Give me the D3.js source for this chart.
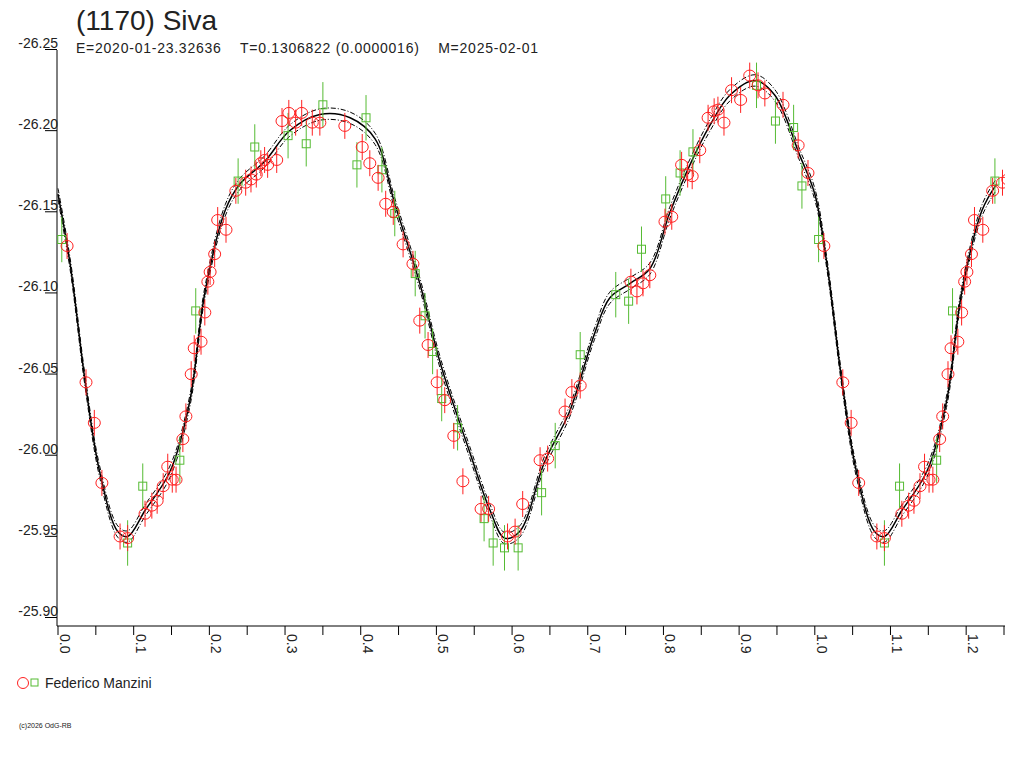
<!DOCTYPE html>
<html><head><meta charset="utf-8">
<script src="https://cdn.jsdelivr.net/npm/d3@7"></script>
<style>body{margin:0;background:#fff}text{font-family:"Liberation Sans",Arial,sans-serif}</style>
</head><body><svg id="c" width="1024" height="768"></svg>
<script>
const title="(1170) Siva";
const subtitle="E=2020-01-23.32636    T=0.1306822 (0.0000016)    M=2025-02-01";
const observer="Federico Manzini";
const yTicks=[-26.25,-26.20,-26.15,-26.10,-26.05,-26.00,-25.95,-25.90];
const xTicks=[0.0,0.1,0.2,0.3,0.4,0.5,0.6,0.7,0.8,0.9,1.0,1.1,1.2];
const curvePhase=[0,.016,.036,.055,.079,.092,.115,.148,.174,.194,.221,.240,.273,.306,.346,.386,.419,.445,.478,.505,.544,.571,.590,.610,.643,.676,.709,.729,.756,.782,.808,.835,.861,.888,.921,.947,.980,1.0];
const curveMag=[-26.160,-26.117,-26.044,-25.989,-25.952,-25.949,-25.965,-25.989,-26.032,-26.099,-26.150,-26.166,-26.180,-26.199,-26.209,-26.207,-26.194,-26.154,-26.105,-26.056,-26.001,-25.965,-25.948,-25.952,-25.995,-26.026,-26.074,-26.096,-26.105,-26.114,-26.148,-26.178,-26.202,-26.221,-26.230,-26.221,-26.184,-26.160];
const redPhase=[.012,.037,.048,.058,.082,.092,.115,.124,.131,.139,.145,.151,.156,.165,.169,.176,.180,.189,.194,.198,.201,.207,.211,.222,.235,.248,.255,.262,.268,.273,.277,.289,.296,.305,.314,.322,.336,.346,.379,.402,.412,.423,.433,.443,.456,.469,.478,.489,.501,.511,.523,.535,.559,.569,.594,.604,.614,.637,.647,.670,.679,.690,.757,.765,.773,.782,.802,.811,.824,.832,.838,.848,.859,.867,.872,.880,.890,.902,.914,.925,.934,.958,.978,.991];
const redMag=[-26.128,-26.044,-26.019,-25.982,-25.949,-25.948,-25.963,-25.968,-25.971,-25.980,-25.992,-25.984,-25.984,-26.009,-26.023,-26.049,-26.065,-26.069,-26.087,-26.106,-26.112,-26.123,-26.144,-26.138,-26.162,-26.167,-26.169,-26.172,-26.179,-26.181,-26.178,-26.181,-26.205,-26.210,-26.204,-26.210,-26.204,-26.204,-26.202,-26.189,-26.179,-26.170,-26.154,-26.149,-26.129,-26.117,-26.082,-26.067,-26.044,-26.033,-26.011,-25.983,-25.966,-25.966,-25.949,-25.952,-25.969,-25.996,-25.997,-26.026,-26.038,-26.042,-26.106,-26.100,-26.105,-26.110,-26.143,-26.146,-26.178,-26.172,-26.171,-26.187,-26.207,-26.211,-26.212,-26.204,-26.224,-26.218,-26.233,-26.227,-26.222,-26.215,-26.190,-26.173];
const greenPhase=[.005,.092,.112,.161,.182,.238,.260,.304,.328,.350,.395,.407,.428,.445,.472,.485,.495,.507,.528,.563,.575,.590,.608,.639,.657,.690,.737,.754,.771,.803,.822,.839,.923,.948,.972,.983];
const greenMag=[-26.132,-25.945,-25.980,-25.996,-26.088,-26.168,-26.189,-26.196,-26.191,-26.215,-26.178,-26.207,-26.175,-26.148,-26.111,-26.085,-26.063,-26.034,-26.016,-25.960,-25.945,-25.942,-25.942,-25.976,-26.005,-26.061,-26.098,-26.094,-26.126,-26.157,-26.173,-26.186,-26.227,-26.205,-26.201,-26.165];
const redErr=0.008, greenErr=0.014, band=0.0035, phaseMax=1.25;

const svg=d3.select("#c");
const x=d3.scaleLinear().domain([0,phaseMax]).range([58,1004]);
const y=d3.scaleLinear().domain([-26.25,-25.90]).range([48,616]);
function ext(ph,mg){const o=ph.map((p,i)=>({p,m:mg[i]}));ph.forEach((p,i)=>{if(p+1<=phaseMax+0.02&&p<1)o.push({p:p+1,m:mg[i]})});return o.sort((a,b)=>a.p-b.p);}
let cv=ext(curvePhase.slice(0,-1),curveMag.slice(0,-1));
const reds=ext(redPhase,redMag), greens=ext(greenPhase,greenMag);
svg.append("text").attr("x",76).attr("y",30).attr("font-size",28).attr("fill","#222").text(title);
svg.append("text").attr("x",76).attr("y",53).attr("font-size",14).attr("fill","#222").attr("xml:space","preserve").attr("textLength",462).text(subtitle);
const g=svg.append("g");
g.append("line").attr("x1",57).attr("x2",57).attr("y1",50).attr("y2",626).attr("stroke","#000");
g.append("line").attr("x1",57).attr("x2",1005).attr("y1",626).attr("y2",626).attr("stroke","#000");
yTicks.forEach(t=>{g.append("line").attr("x1",45).attr("x2",57).attr("y1",y(t)+1.5).attr("y2",y(t)+1.5).attr("stroke","#000");
 g.append("text").attr("x",58).attr("y",y(t)).attr("text-anchor","end").attr("font-size",14).attr("fill","#222").text(t.toFixed(2));});
d3.range(0,phaseMax+1e-9,0.05).forEach(t=>{g.append("line").attr("x1",x(t)).attr("x2",x(t)).attr("y1",626).attr("y2",635).attr("stroke","#000");});
xTicks.forEach(t=>{g.append("text").attr("transform",`translate(${x(t)+2},634) rotate(90)`).attr("font-size",14).attr("fill","#222").text(t.toFixed(1));});
const line=d3.line().x(d=>x(d.p)).y(d=>y(d.m)).curve(d3.curveCatmullRom);
svg.append("clipPath").attr("id","cl").append("rect").attr("x",57).attr("y",42).attr("width",948).attr("height",584);
const pg=svg.append("g").attr("clip-path","url(#cl)");
[-band,band].forEach(o=>pg.append("path").attr("d",line(cv.map(d=>({p:d.p,m:d.m+o})))).attr("fill","none").attr("stroke","#000").attr("stroke-width",1).attr("stroke-dasharray","5,2,1,2"));
pg.append("path").attr("d",line(cv)).attr("fill","none").attr("stroke","#000").attr("stroke-width",1.5);
greens.forEach(d=>{pg.append("line").attr("x1",x(d.p)).attr("x2",x(d.p)).attr("y1",y(d.m-greenErr)).attr("y2",y(d.m+greenErr)).attr("stroke","#55bb33");
 pg.append("rect").attr("x",x(d.p)-4).attr("y",y(d.m)-4).attr("width",8).attr("height",8).attr("fill","none").attr("stroke","#55bb33");});
reds.forEach(d=>{pg.append("line").attr("x1",x(d.p)).attr("x2",x(d.p)).attr("y1",y(d.m-redErr)).attr("y2",y(d.m+redErr)).attr("stroke","#ff2020");
 pg.append("ellipse").attr("cx",x(d.p)).attr("cy",y(d.m)).attr("rx",6).attr("ry",5.5).attr("fill","none").attr("stroke","#ff2020");});
svg.append("circle").attr("cx",23).attr("cy",683).attr("r",5.5).attr("fill","none").attr("stroke","#ff2020");
svg.append("rect").attr("x",31).attr("y",679).attr("width",7).attr("height",7).attr("fill","none").attr("stroke","#55bb33");
svg.append("text").attr("x",45).attr("y",688).attr("font-size",14).attr("fill","#222").text(observer);
svg.append("text").attr("x",19).attr("y",728).attr("font-size",7).attr("fill","#222").text("(c)2026 OdG-RB");
</script></body></html>
